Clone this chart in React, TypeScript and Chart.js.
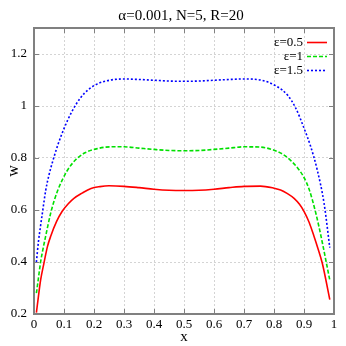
import { useEffect, useRef } from "react";
import { Chart, registerables } from "chart.js";

Chart.register(...registerables);

const TITLE = "α=0.001, N=5, R=20";
const X_LABEL = "x";
const Y_LABEL = "w";
const seriesLabels = ["ε=0.5", "ε=1", "ε=1.5"];
const seriesColors = ["#ff0000", "#00e000", "#0000ff"];
const seriesDashes: number[][] = [[], [4, 2], [2, 2]];

const xTicks = [0, 0.1, 0.2, 0.3, 0.4, 0.5, 0.6, 0.7, 0.8, 0.9, 1];
const xTickLabels = ["0", "0.1", "0.2", "0.3", "0.4", "0.5", "0.6", "0.7", "0.8", "0.9", "1"];
const yTicks = [0.2, 0.4, 0.6, 0.8, 1, 1.2];
const yTickLabels = ["0.2", "0.4", "0.6", "0.8", "1", "1.2"];

const redX = [0.008, 0.015, 0.022, 0.033, 0.045, 0.056, 0.075, 0.094, 0.115, 0.133, 0.16, 0.19, 0.22, 0.25, 0.3, 0.35, 0.4, 0.45, 0.5, 0.55, 0.6, 0.65, 0.7, 0.755, 0.8, 0.822, 0.845, 0.867, 0.885, 0.9, 0.917, 0.933, 0.947, 0.961, 0.974, 0.986];
const redY = [0.205, 0.27, 0.33, 0.395, 0.46, 0.5, 0.555, 0.595, 0.625, 0.645, 0.665, 0.683, 0.69, 0.693, 0.691, 0.686, 0.68, 0.676, 0.675, 0.676, 0.68, 0.686, 0.691, 0.692, 0.684, 0.677, 0.663, 0.645, 0.622, 0.595, 0.553, 0.5, 0.45, 0.395, 0.325, 0.255];

const greenX = [0.008, 0.015, 0.022, 0.03, 0.039, 0.056, 0.067, 0.078, 0.094, 0.111, 0.13, 0.145, 0.17, 0.211, 0.256, 0.3, 0.35, 0.4, 0.45, 0.5, 0.55, 0.6, 0.65, 0.7, 0.755, 0.8, 0.83, 0.856, 0.88, 0.9, 0.917, 0.939, 0.95, 0.961, 0.974, 0.986];
const greenY = [0.28, 0.34, 0.4, 0.45, 0.5, 0.59, 0.635, 0.672, 0.715, 0.752, 0.782, 0.8, 0.82, 0.836, 0.843, 0.843, 0.838, 0.833, 0.829, 0.828, 0.829, 0.833, 0.838, 0.843, 0.842, 0.83, 0.814, 0.79, 0.76, 0.725, 0.68, 0.59, 0.535, 0.475, 0.4, 0.33];

const blueX = [0.008, 0.015, 0.022, 0.03, 0.039, 0.05, 0.061, 0.08, 0.1, 0.126, 0.156, 0.18, 0.211, 0.256, 0.3, 0.35, 0.4, 0.45, 0.5, 0.55, 0.6, 0.65, 0.7, 0.755, 0.81, 0.845, 0.872, 0.9, 0.922, 0.944, 0.967, 0.986];
const blueY = [0.4, 0.48, 0.54, 0.605, 0.675, 0.735, 0.782, 0.852, 0.913, 0.978, 1.033, 1.062, 1.085, 1.1, 1.104, 1.102, 1.099, 1.096, 1.095, 1.096, 1.099, 1.102, 1.104, 1.1, 1.075, 1.042, 0.993, 0.915, 0.845, 0.755, 0.625, 0.455];

const seriesX = [redX, greenX, blueX];
const seriesY = [redY, greenY, blueY];

const FONT = "'Liberation Serif', 'Times New Roman', serif";
const FRAME = "#808080";

const framePlugin = {
  id: "gnuplotFrame",
  afterDatasetsDraw(chart: any) {
    const { ctx, chartArea } = chart;
    const { left, right, top, bottom } = chartArea;
    const xs = chart.scales.x;
    const ys = chart.scales.y;
    ctx.save();
    ctx.strokeStyle = FRAME;
    ctx.lineWidth = 1;
    ctx.setLineDash([]);
    const tl = 5;
    ctx.beginPath();
    xTicks.forEach((v) => {
      const px = Math.round(xs.getPixelForValue(v)) + 0.5;
      ctx.moveTo(px, bottom);
      ctx.lineTo(px, bottom - tl);
      ctx.moveTo(px, top);
      ctx.lineTo(px, top + tl);
    });
    yTicks.forEach((v) => {
      const py = Math.round(ys.getPixelForValue(v)) + 0.5;
      ctx.moveTo(left, py);
      ctx.lineTo(left + tl, py);
      ctx.moveTo(right, py);
      ctx.lineTo(right - tl, py);
    });
    ctx.stroke();
    ctx.lineWidth = 2;
    ctx.strokeRect(left, top, right - left, bottom - top);
    ctx.restore();
  },
  afterDraw(chart: any) {
    const { ctx, chartArea } = chart;
    ctx.save();
    ctx.fillStyle = "#000";
    ctx.font = `15px ${FONT}`;
    ctx.textAlign = "center";
    ctx.textBaseline = "middle";
    ctx.fillText(TITLE, (chartArea.left + chartArea.right) / 2 - 3, 16);
    ctx.font = `13px ${FONT}`;
    ctx.textAlign = "right";
    const textRight = chartArea.right - 31;
    chart.data.datasets.forEach((ds: any, i: number) => {
      const y = chartArea.top + 14.5 + i * 14;
      ctx.fillStyle = "#000";
      ctx.fillText(ds.label, textRight, y);
      ctx.strokeStyle = ds.borderColor;
      ctx.lineWidth = 1.6;
      ctx.setLineDash(ds.borderDash || []);
      ctx.beginPath();
      ctx.moveTo(textRight + 4, y);
      ctx.lineTo(textRight + 24, y);
      ctx.stroke();
    });
    ctx.restore();
  },
};

export default function App() {
  const ref = useRef<HTMLCanvasElement | null>(null);

  useEffect(() => {
    document.body.style.margin = "0";
    const canvas = ref.current;
    if (!canvas) return;
    const datasets = seriesLabels.map((label, i) => ({
      label,
      data: seriesX[i].map((x, j) => ({ x, y: seriesY[i][j] })),
      borderColor: seriesColors[i],
      backgroundColor: seriesColors[i],
      borderDash: seriesDashes[i],
      borderWidth: 1.6,
      pointRadius: 0,
      cubicInterpolationMode: "monotone" as const,
      fill: false,
      showLine: true,
    }));
    const chart = new Chart(canvas, {
      type: "scatter",
      data: { datasets },
      options: {
        responsive: false,
        animation: false,
        devicePixelRatio: 1,
        layout: { padding: { top: 28, right: 12, left: 0, bottom: 0 } },
        plugins: {
          legend: { display: false },
          title: { display: false },
          tooltip: { enabled: false },
        },
        scales: {
          x: {
            type: "linear",
            min: 0,
            max: 1,
            afterBuildTicks: (scale: any) => {
              scale.ticks = xTicks.map((v) => ({ value: v }));
            },
            afterFit: (scale: any) => {
              scale.height = 32;
            },
            ticks: {
              autoSkip: false,
              maxRotation: 0,
              padding: 3,
              color: "#000",
              font: { family: FONT, size: 13 },
              callback: (_v: any, i: number) => xTickLabels[i],
            },
            grid: { color: "#d4d4d4", drawTicks: false, lineWidth: 1 },
            border: { display: false, dash: [2, 2] },
            title: {
              display: true,
              text: X_LABEL,
              color: "#000",
              font: { family: FONT, size: 15 },
              padding: { top: 0, bottom: 0 },
            },
          },
          y: {
            type: "linear",
            min: 0.2,
            max: 1.3,
            afterBuildTicks: (scale: any) => {
              scale.ticks = yTicks.map((v) => ({ value: v }));
            },
            afterFit: (scale: any) => {
              scale.width = 34;
            },
            ticks: {
              autoSkip: false,
              padding: 7,
              color: "#000",
              font: { family: FONT, size: 13 },
              callback: (_v: any, i: number) => yTickLabels[i],
            },
            grid: { color: "#d4d4d4", drawTicks: false, lineWidth: 1 },
            border: { display: false, dash: [2, 2] },
            title: {
              display: true,
              text: Y_LABEL,
              color: "#000",
              font: { family: FONT, size: 16 },
              padding: { top: 4, bottom: 0 },
            },
          },
        },
      },
      plugins: [framePlugin],
    });
    return () => chart.destroy();
  }, []);

  return <canvas ref={ref} width={346} height={346} style={{ display: "block" }} />;
}
